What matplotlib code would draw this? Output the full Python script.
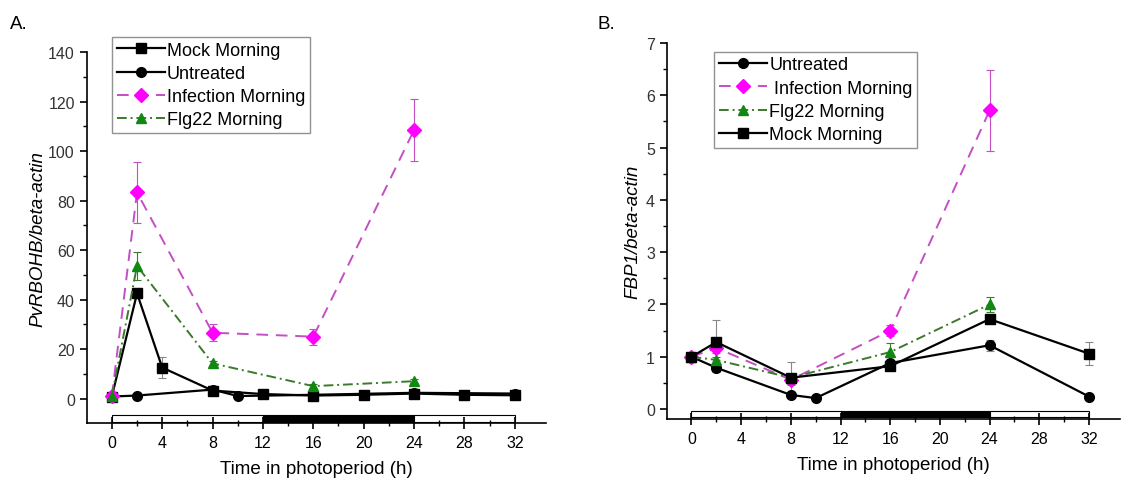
import matplotlib
matplotlib.use("Agg")
import matplotlib.pyplot as plt

plt.rcParams['font.family'] = ['Liberation Sans', 'DejaVu Sans']

# panel A: PvRBOHB
time_a_mock = [0, 2, 4, 8, 12, 16, 20, 24, 28, 32]
mock_a = [0.8, 42.5, 12.5, 3.2, 1.8, 1.2, 1.5, 2.0, 1.5, 1.3]
mock_a_err = [0.5, 2.0, 4.2, 1.0, 0.5, 0.5, 0.5, 0.5, 0.5, 0.5]
time_a_untr = [0, 2, 8, 10, 16, 24, 32]
untr_a = [0.8, 1.2, 3.6, 1.0, 1.5, 2.3, 2.0]
untr_a_err = [0.3, 0.3, 0.5, 0.3, 0.3, 0.4, 0.3]
time_a_inf = [0, 2, 8, 16, 24]
inf_a = [1.0, 83.3, 26.6, 25.0, 108.5]
inf_a_err = [0.5, 12.5, 3.5, 3.2, 12.5]
flg_a = [1.0, 53.6, 14.2, 5.0, 7.0]
flg_a_err = [0.5, 5.5, 1.0, 0.8, 0.8]
labels_a = ['Mock Morning', 'Untreated', 'Infection Morning', 'Flg22 Morning']

# panel B: FBP1
time_b_untr = [0, 2, 8, 10, 16, 24, 32]
untr_b = [1.0, 0.79, 0.27, 0.21, 0.88, 1.22, 0.24]
untr_b_err = [0.05, 0.08, 0.03, 0.03, 0.05, 0.10, 0.03]
time_b_mock = [0, 2, 8, 16, 24, 32]
mock_b = [1.0, 1.28, 0.60, 0.82, 1.72, 1.06]
mock_b_err = [0.05, 0.43, 0.30, 0.05, 0.05, 0.22]
time_b_inf = [0, 2, 8, 16, 24]
inf_b = [1.0, 1.17, 0.56, 1.50, 5.71]
inf_b_err = [0.05, 0.10, 0.10, 0.10, 0.77]
flg_b = [1.0, 0.94, 0.60, 1.09, 2.00]
flg_b_err = [0.05, 0.05, 0.05, 0.17, 0.14]
labels_b = ['Untreated', ' Infection Morning', 'Flg22 Morning', 'Mock Morning']

# light / dark bar
period_start = [0, 12, 24]
period_len = [12, 12, 8]
period_color = ['white', 'black', 'white']

x_ticks = [0, 4, 8, 12, 16, 20, 24, 28, 32]

MAG_LINE = '#c44fc4'
MAG = '#ff00ff'
GRN_LINE = '#3a7a2a'
GRN = '#118811'

TICK_FS = 11.5
LABEL_FS = 13.5
LEG_FS = 13


def series(ax, t, y, err, marker, color, lcolor, ls, ms):
    c = ax.errorbar(t, y, yerr=err, color=lcolor, ecolor='#888888' if color == 'black' else lcolor,
                    elinewidth=0.8, capsize=3, capthick=0.8, linestyle=ls,
                    linewidth=1.6 if color == 'black' else 1.4,
                    marker=marker, markersize=ms, markerfacecolor=color,
                    markeredgecolor=color)
    return c.lines[0]


def style(ax, ylim, ymaj, ymin_step, bar_lo, bar_hi):
    ax.set_xlim(-2, 34.5)
    ax.set_ylim(*ylim)
    for s in ['top', 'right']:
        ax.spines[s].set_visible(False)
    for s in ['left', 'bottom']:
        ax.spines[s].set_linewidth(1.2)
    ax.set_xticks(x_ticks)
    ax.set_xticks(list(range(2, 34, 4)), minor=True)
    ax.set_yticks(ymaj)
    ax.set_yticks([v + ymin_step for v in ymaj[:-1]], minor=True)
    ax.tick_params(axis='x', which='major', direction='inout', length=9, width=1.2,
                   labelsize=TICK_FS, pad=4)
    ax.tick_params(axis='x', which='minor', direction='inout', length=5, width=1.0)
    ax.tick_params(axis='y', which='major', direction='out', length=5, width=1.2,
                   labelsize=TICK_FS, labelcolor='#333333')
    ax.tick_params(axis='y', which='minor', direction='out', length=3, width=1.0)
    ax.barh([(bar_lo + bar_hi) / 2] * 3, period_len, left=period_start,
            height=bar_hi - bar_lo, color=period_color, edgecolor='black',
            linewidth=0.8, zorder=1)
    ax.set_xlabel('Time in photoperiod (h)', fontsize=LABEL_FS, labelpad=7)


def legend(ax, handles, labels, anchor):
    ax.legend(handles, labels, loc='upper left', bbox_to_anchor=anchor,
              bbox_transform=fig.transFigure, fontsize=LEG_FS, frameon=True,
              fancybox=False, edgecolor='#777777', borderaxespad=0, borderpad=0.25,
              labelspacing=0.35, handlelength=2.7, handletextpad=0.1)


fig = plt.figure(figsize=(11.21, 4.81), dpi=100)

ax_a = fig.add_axes([0.0773, 0.1185, 0.410, 0.771])
h_a = [
    series(ax_a, time_a_mock, mock_a, mock_a_err, 's', 'black', 'black', '-', 7),
    series(ax_a, time_a_untr, untr_a, untr_a_err, 'o', 'black', 'black', '-', 7),
    series(ax_a, time_a_inf, inf_a, inf_a_err, 'D', MAG, MAG_LINE, (0, (6, 4)), 7.5),
    series(ax_a, time_a_inf, flg_a, flg_a_err, '^', GRN, GRN_LINE, (0, (5, 2, 1, 2)), 7.5),
]
style(ax_a, (-9.9, 140), [0, 20, 40, 60, 80, 100, 120, 140], 10, -9.4, -6.7)
ax_a.set_ylabel('PvRBOHB/beta-actin', fontsize=LABEL_FS, style='italic', labelpad=1)
legend(ax_a, h_a, labels_a, (0.0999, 0.921))

ax_b = fig.add_axes([0.5947, 0.1268, 0.4044, 0.7817])
h_b = [
    series(ax_b, time_b_untr, untr_b, untr_b_err, 'o', 'black', 'black', '-', 7),
    series(ax_b, time_b_inf, inf_b, inf_b_err, 'D', MAG, MAG_LINE, (0, (6, 4)), 7.5),
    series(ax_b, time_b_inf, flg_b, flg_b_err, '^', GRN, GRN_LINE, (0, (5, 2, 1, 2)), 7.5),
    series(ax_b, time_b_mock, mock_b, mock_b_err, 's', 'black', 'black', '-', 7),
]
style(ax_b, (-0.19, 7), [0, 1, 2, 3, 4, 5, 6, 7], 0.5, -0.16, -0.044)
ax_b.set_ylabel('FBP1/beta-actin', fontsize=LABEL_FS, style='italic', labelpad=3)
legend(ax_b, h_b, labels_b, (0.637, 0.890))

fig.text(0.009, 0.94, 'A.', fontsize=LABEL_FS)
fig.text(0.533, 0.94, 'B.', fontsize=LABEL_FS)

fig.savefig('out.png', dpi=100)
